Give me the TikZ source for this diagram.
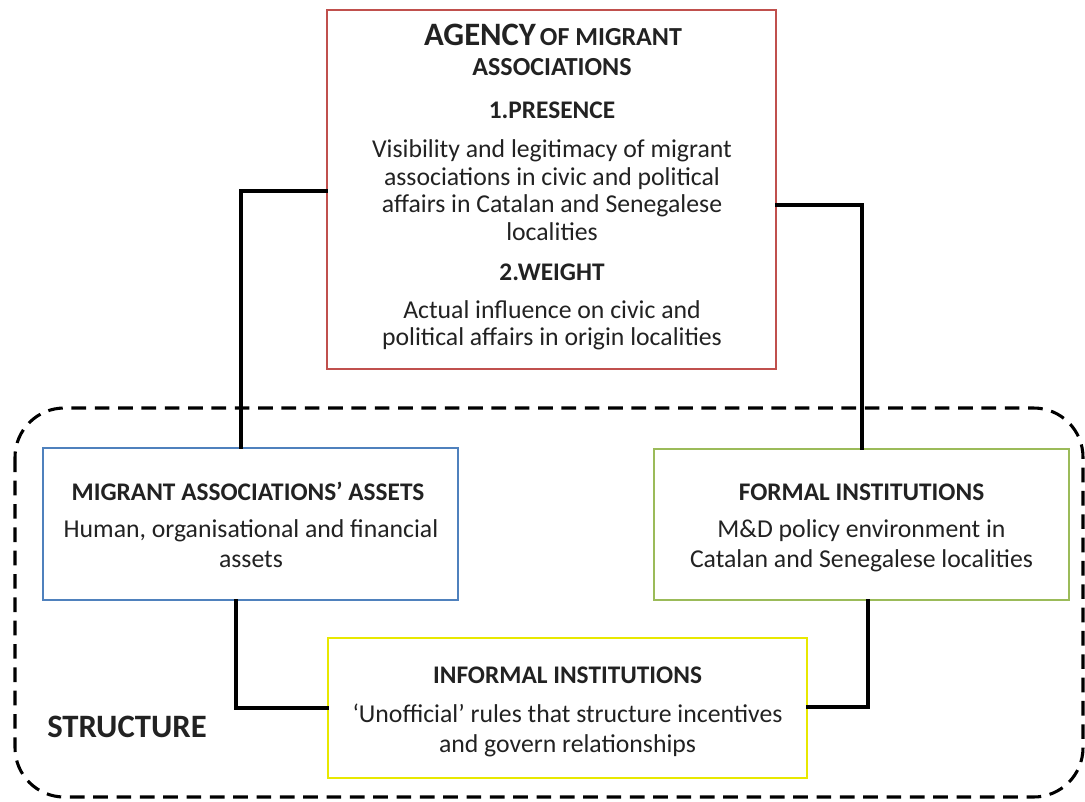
\documentclass[tikz,border=0pt]{standalone}
\usepackage{fontspec}
\setmainfont{Carlito}
\usetikzlibrary{fit}
\definecolor{redb}{HTML}{C0504D}
\definecolor{blueb}{HTML}{4F81BD}
\definecolor{greenb}{HTML}{9BBB59}
\definecolor{yellowb}{HTML}{E8E800}
\definecolor{txt}{HTML}{222222}
\tikzset{
  box/.style={inner sep=0pt, line width=2pt, fill=white},
  ln/.style={anchor=base, inner sep=0pt, text=txt, font=\fontsize{19.3}{23}\selectfont},
  hd/.style={anchor=base, inner sep=0pt, text=txt, font=\fontsize{19}{23}\selectfont\bfseries},
  conn/.style={line width=3pt, line cap=rect},
  struct/.style={line width=2.3pt, dash pattern=on 11pt off 6.5pt, rounded corners=37pt}
}
\begin{document}
\begin{tikzpicture}[x=0.75pt,y=-0.75pt]
\useasboundingbox (0,0) rectangle (1085,801);
% structure frame
\draw[struct] (15,408) rectangle (1083,797);
% boxes
\node[box, draw=redb, fit={(327,10) (776,369)}] (agency) {};
\node[box, draw=blueb, fit={(43,448) (458,600)}] (ma) {};
\node[box, draw=greenb, fit={(654,449) (1069,600)}] (fi) {};
\node[box, draw=yellowb, fit={(328,638) (807,778)}] (inf) {};
% connectors
\coordinate (l1) at (241,191);
\coordinate (r1) at (862,205);
\coordinate (b1) at (236,708);
\coordinate (b2) at (868,707);
\draw[conn] (ma.north -| l1) |- (agency.west |- l1);
\draw[conn] (agency.east |- r1) -| (fi.north -| r1);
\draw[conn] (ma.south -| b1) |- (inf.west |- b1);
\draw[conn] (fi.south -| b2) |- (inf.east |- b2);
% agency text
\node[anchor=base, inner sep=0pt, text=txt] (t1) at (553,45) {{\fontsize{24.5}{28}\selectfont\bfseries AGENCY}\hspace{3pt}{\fontsize{19.5}{23}\selectfont\bfseries OF MIGRANT}};
\node[hd, font=\fontsize{19.5}{23}\selectfont\bfseries] (t2) at (552,75) {ASSOCIATIONS};
\node[hd] (t3) at (552,118) {1.PRESENCE};
\node[ln] (t4) at (552,157) {Visibility and legitimacy of migrant};
\node[ln] (t5) at (552,185) {associations in civic and political};
\node[ln] (t6) at (552,212) {affairs in Catalan and Senegalese};
\node[ln] (t7) at (552,240) {localities};
\node[hd] (t8) at (552,280) {2.WEIGHT};
\node[ln] (t9) at (552,318) {Actual influence on civic and};
\node[ln] (t10) at (552,345) {political affairs in origin localities};
% assets text
\node[hd] (m1) at (248,500) {MIGRANT ASSOCIATIONS’ ASSETS};
\node[ln] (m2) at (251,537) {Human, organisational and financial};
\node[ln] (m3) at (251,567) {assets};
% formal text
\node[hd] (f1) at (861.5,500) {FORMAL INSTITUTIONS};
\node[ln] (f2) at (861.5,537) {M\&D policy environment in};
\node[ln] (f3) at (861.5,567) {Catalan and Senegalese localities};
% informal text
\node[hd] (i1) at (567.5,683) {INFORMAL INSTITUTIONS};
\node[ln] (i2) at (567.5,722) {‘Unofficial’ rules that structure incentives};
\node[ln] (i3) at (567.5,752) {and govern relationships};
% structure label
\node[anchor=base west, inner sep=0pt, text=txt, font=\fontsize{24.5}{30}\selectfont\bfseries] (st) at (47,737) {STRUCTURE};
\end{tikzpicture}
\end{document}
